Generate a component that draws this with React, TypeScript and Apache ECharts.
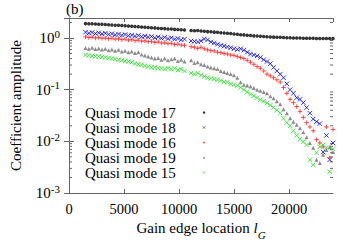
import React, { useEffect, useRef } from 'react';
import * as echarts from 'echarts';

const xValues = [
  1500, 1800, 2100, 2400, 2700, 3000, 3300, 3600, 3900, 4200,
  4500, 4800, 5100, 5400, 5700, 6000, 6300, 6600, 6900, 7200,
  7500, 7800, 8100, 8400, 8700, 9000, 9300, 9600, 9900, 10200,
  10500, 10800, 11100, 11400, 11700, 12000, 12300, 12600, 12900, 13200,
  13500, 13800, 14100, 14400, 14700, 15000, 15300, 15600, 15900, 16200,
  16500, 16800, 17100, 17400, 17700, 18000, 18300, 18600, 18900, 19200,
  19500, 19800, 20100, 20400, 20700, 21000, 21300, 21600, 21900, 22200,
  22500, 22800, 23100, 23400, 23700, 24000,
];

const mode17 = [
  1.90, 1.89, 1.88, 1.86, 1.85, 1.84, 1.82, 1.81, 1.79, 1.77,
  1.76, 1.74, 1.72, 1.71, 1.69, 1.67, 1.66, 1.63, 1.61, 1.60,
  1.58, 1.57, 1.55, 1.53, 1.52, 1.50, 1.49, 1.47, 1.46, 1.44,
  1.43, null, 1.40, 1.38, 1.40, 1.37, 1.35, 1.33, 1.32, 1.30,
  1.29, 1.27, 1.25, 1.24, 1.22, 1.20, 1.18, 1.16, 1.15, 1.13,
  1.12, 1.10, 1.09, 1.08, 1.07, 1.06, 1.05, 1.04, 1.03, 1.03,
  1.02, 1.01, 1.01, 1.00, 1.00, 1.00, 0.99, 0.99, 0.99, 0.99,
  0.98, 0.98, 0.98, 0.98, 0.98, 0.98,
];

const mode18 = [
  1.30, 1.24, 1.28, 1.22, 1.26, 1.20, 1.24, 1.18, 1.21, 1.15,
  1.19, 1.13, 1.17, 1.11, 1.14, 1.08, 1.12, 1.06, 1.09, 1.04,
  1.07, 1.01, 1.05, 0.99, 1.03, 0.97, 1.01, 0.95, 0.98, 0.92,
  0.95, null, 0.88, 0.86, 0.84, 0.88, 0.96, 0.92, 0.84, 0.80,
  0.76, 0.72, 0.70, 0.67, 0.65, 0.62, 0.60, 0.62, 0.58, 0.53,
  0.49, 0.47, 0.45, 0.42, 0.38, 0.35, 0.32, 0.27, 0.23, 0.20,
  0.17, 0.13, 0.10, 0.085, 0.07, 0.065, 0.056, 0.045, 0.035, 0.027,
  0.024, 0.022, 0.0062, 0.013, 0.0044, 0.0093,
];

const mode16 = [
  1.05, 1.02, 1.04, 1.00, 1.02, 0.99, 1.00, 0.97, 0.99, 0.95,
  0.97, 0.93, 0.95, 0.91, 0.93, 0.89, 0.91, 0.87, 0.88, 0.85,
  0.86, 0.82, 0.84, 0.80, 0.81, 0.78, 0.79, 0.75, 0.76, 0.73,
  0.72, null, 0.68, 0.66, 0.63, 0.66, 0.62, 0.59, 0.57, 0.56,
  0.53, 0.52, 0.50, 0.49, 0.47, 0.46, 0.44, 0.42, 0.40, 0.37,
  0.34, 0.31, 0.28, 0.26, 0.23, 0.20, 0.185, 0.17, 0.155, 0.14,
  0.11, 0.085, 0.065, 0.056, 0.047, 0.038, 0.029, 0.023, 0.019, 0.016,
  0.0108, 0.0093, 0.0078, 0.019, 0.0048, 0.017,
];

const mode19 = [
  0.64, 0.62, 0.65, 0.61, 0.63, 0.60, 0.62, 0.58, 0.60, 0.57,
  0.59, 0.55, 0.57, 0.53, 0.55, 0.51, 0.53, 0.48, 0.46, 0.44,
  0.42, 0.40, 0.41, 0.38, 0.40, 0.37, 0.39, 0.40, 0.36, 0.38,
  0.35, null, 0.37, 0.33, 0.34, 0.31, 0.30, 0.28, 0.27, 0.26,
  0.25, 0.23, 0.22, 0.21, 0.20, 0.19, 0.17, 0.14, 0.125, 0.12,
  0.115, 0.108, 0.10, 0.095, 0.09, 0.085, 0.075, 0.068, 0.06, 0.052,
  0.042, 0.035, 0.028, 0.024, 0.021, 0.018, 0.015, 0.012, 0.0093, 0.0075,
  0.0044, 0.0038, 0.0055, 0.0068, 0.0078, 0.0062,
];

const mode15 = [
  0.47, 0.46, 0.45, 0.44, 0.44, 0.43, 0.42, 0.41, 0.40, 0.39,
  0.38, 0.37, 0.36, 0.35, 0.34, 0.32, 0.31, 0.30, 0.29, 0.28,
  0.27, 0.27, 0.26, 0.26, 0.25, 0.26, 0.25, 0.26, 0.24, 0.25,
  0.23, null, 0.21, 0.20, 0.21, 0.19, 0.18, 0.17, 0.165, 0.16,
  0.155, 0.15, 0.14, 0.14, 0.13, 0.125, 0.12, 0.11, 0.10, 0.09,
  0.082, 0.076, 0.07, 0.064, 0.06, 0.055, 0.05, 0.045, 0.04, 0.035,
  0.028, 0.023, 0.02, 0.016, 0.013, 0.011, 0.0098, 0.0085, 0.0044, 0.0035,
  0.006, 0.0078, 0.0085, 0.0075, 0.0026, 0.0072,
];

const minorTickValues = [
  0.002, 0.003, 0.004, 0.005, 0.006, 0.007, 0.008, 0.009,
  0.02, 0.03, 0.04, 0.05, 0.06, 0.07, 0.08, 0.09,
  0.2, 0.3, 0.4, 0.5, 0.6, 0.7, 0.8, 0.9,
  2,
];

const legendNames = ['Quasi mode 17', 'Quasi mode 18', 'Quasi mode 16', 'Quasi mode 19', 'Quasi mode 15'];

const FONT = 'Liberation Serif';
const FRAME = '#666666';
const CROSS = 'path://M0,0L10,10M0,10L10,0';
const PLUS = 'path://M5,0L5,10M0,5L10,5';

function pairs(values: (number | null)[]) {
  return xValues.map((x, i) => [x, values[i]]);
}

export default function App() {
  const ref = useRef<HTMLDivElement>(null);

  useEffect(() => {
    if (!ref.current) return;
    const chart = echarts.init(ref.current, undefined, { renderer: 'svg' });

    const mk = (name: string, values: (number | null)[], color: string, symbol: string, size: number, stroke: boolean) => ({
      name,
      type: 'scatter',
      data: pairs(values),
      symbol,
      symbolSize: size,
      itemStyle: stroke
        ? { color, borderColor: color, borderWidth: 1 }
        : { color, borderWidth: 0 },
      emphasis: { disabled: true },
    });

    chart.setOption({
      animation: false,
      title: {
        text: '(b)',
        left: 66,
        top: 1,
        padding: 0,
        textStyle: { fontFamily: FONT, fontSize: 15, fontWeight: 'normal', color: '#000' },
      },
      grid: { left: 68, right: 27, top: 18, bottom: 59 },
      legend: {
        orient: 'vertical',
        left: 85,
        top: 105,
        padding: 0,
        align: 'right',
        itemWidth: 2.5,
        itemHeight: 2.5,
        itemGap: 0,
        itemStyle: { borderWidth: 0.7 },
        textStyle: { fontFamily: FONT, fontSize: 15, color: '#000', lineHeight: 14.6, padding: [0, 22, 0, 0] },
        data: legendNames,
      },
      xAxis: [
        {
          type: 'value',
          min: 0,
          max: 24000,
          interval: 5000,
          name: '{n|Gain edge location }{i|l}{g|G}',
          nameLocation: 'middle',
          nameGap: 23,
          nameTextStyle: {
            rich: {
              n: { fontFamily: FONT, fontSize: 15, color: '#000', lineHeight: 24, verticalAlign: 'middle' },
              i: { fontFamily: FONT, fontSize: 15, fontStyle: 'italic', color: '#000', lineHeight: 24, verticalAlign: 'middle' },
              g: { fontFamily: FONT, fontSize: 11, fontStyle: 'italic', color: '#000', lineHeight: 10, verticalAlign: 'bottom' },
            },
          },
          axisLine: { show: true, lineStyle: { color: FRAME, width: 1 } },
          axisTick: { show: true, inside: true, length: 4, lineStyle: { color: FRAME } },
          axisLabel: {
            margin: 8,
            fontFamily: FONT,
            fontSize: 14.5,
            color: '#000',
            showMaxLabel: false,
            formatter: (v: number) => String(v),
          },
          splitLine: { show: false },
        },
        {
          type: 'value',
          position: 'top',
          min: 0,
          max: 24000,
          interval: 5000,
          axisLine: { show: true, lineStyle: { color: FRAME, width: 1 } },
          axisTick: { show: true, inside: true, length: 4, lineStyle: { color: FRAME } },
          axisLabel: { show: false },
          splitLine: { show: false },
        },
      ],
      yAxis: [
        {
          type: 'log',
          logBase: 10,
          min: 0.001,
          max: 2.44,
          name: 'Coefficient amplitude',
          nameLocation: 'middle',
          nameGap: 46,
          nameTextStyle: { fontFamily: FONT, fontSize: 15, color: '#000' },
          axisLine: { show: true, lineStyle: { color: FRAME, width: 1 } },
          axisTick: { show: true, inside: true, length: 5, lineStyle: { color: FRAME } },
          axisLabel: {
            margin: 9,
            showMaxLabel: false,
            formatter: (v: number) => {
              const e = Math.log10(v);
              if (Math.abs(e - Math.round(e)) > 1e-6) return '';
              return '{b|10}{s|' + Math.round(e) + '}';
            },
            rich: {
              b: { fontFamily: FONT, fontSize: 15, color: '#000', lineHeight: 20, verticalAlign: 'middle' },
              s: { fontFamily: FONT, fontSize: 11, color: '#000', lineHeight: 11, verticalAlign: 'top' },
            },
          },
          splitLine: { show: false },
        },
        {
          type: 'log',
          logBase: 10,
          min: 0.001,
          max: 2.44,
          position: 'right',
          axisLine: { show: true, lineStyle: { color: FRAME, width: 1 } },
          axisTick: { show: true, inside: true, length: 5, lineStyle: { color: FRAME } },
          axisLabel: { show: false },
          splitLine: { show: false },
        },
      ],
      series: [
        {
          type: 'custom',
          name: 'minor',
          silent: true,
          data: minorTickValues.map((v) => [0, v]),
          renderItem: (params: any, api: any) => {
            const cs = params.coordSys;
            const y = api.coord([0, api.value(1)])[1];
            const st = { stroke: FRAME, lineWidth: 1 };
            return {
              type: 'group',
              children: [
                { type: 'line', shape: { x1: cs.x, y1: y, x2: cs.x + 3, y2: y }, style: st },
                { type: 'line', shape: { x1: cs.x + cs.width - 3, y1: y, x2: cs.x + cs.width, y2: y }, style: st },
              ],
            };
          },
          clip: false,
          z: 1,
        },
        mk('Quasi mode 17', mode17, '#000000', 'circle', 3.5, false),
        mk('Quasi mode 18', mode18, '#0000ff', CROSS, 4.5, true),
        mk('Quasi mode 16', mode16, '#ff2020', PLUS, 4.5, true),
        mk('Quasi mode 19', mode19, '#6e6e6e', 'triangle', 4, false),
        mk('Quasi mode 15', mode15, '#22e022', CROSS, 4.5, true),
      ],
    });

    return () => chart.dispose();
  }, []);

  return (
    <div
      ref={ref}
      style={{ position: 'fixed', left: 0, top: 0, width: 360, height: 252, background: '#fff' }}
    />
  );
}
